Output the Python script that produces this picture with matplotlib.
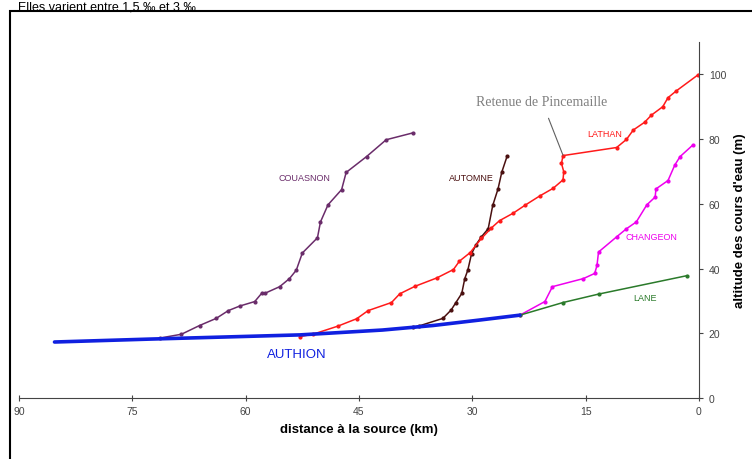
import matplotlib
matplotlib.use('Agg')
import matplotlib.pyplot as plt
from matplotlib.patches import Rectangle

plt.rcParams['font.family'] = ['Liberation Sans', 'DejaVu Sans']

# river profiles: distance to the source (km), altitude (m)
authion_km = [85.3, 72.7, 52.8, 41.9, 35.2, 29.0, 23.7]
authion_alt = [17.3, 18.2, 19.5, 21.0, 22.4, 24.1, 25.6]

couasnon_km = [71.4, 68.5, 66.1, 63.9, 62.3, 60.8, 58.8, 57.9, 57.5, 55.5, 54.2,
               53.3, 52.5, 50.5, 50.1, 49.1, 47.3, 46.7, 44.0, 41.4, 37.9]
couasnon_alt = [18.5, 19.7, 22.4, 24.6, 27.0, 28.4, 29.8, 32.3, 32.3, 34.4, 36.9,
                39.5, 44.8, 49.5, 54.4, 59.7, 64.4, 69.7, 74.6, 79.8, 81.9]

automne_km = [37.8, 37.0, 33.9, 32.8, 32.2, 31.4, 31.0, 30.6, 30.1, 29.5, 28.8,
              27.9, 27.3, 26.6, 26.1, 25.4]
automne_alt = [21.8, 22.3, 24.6, 27.2, 29.4, 32.3, 36.9, 39.5, 44.6, 47.4, 49.8,
               52.3, 59.5, 64.6, 69.8, 74.7]

lathan_km = [52.8, 51.1, 47.8, 45.3, 43.8, 40.7, 39.6, 37.6, 34.7, 32.5, 31.7,
             30.3, 28.8, 27.5, 26.4, 24.6, 23.0, 21.1, 19.3, 18.0, 17.9, 18.2,
             18.0, 10.9, 9.6, 8.7, 7.2, 6.3, 4.8, 4.1, 3.0, 0.1]
lathan_alt = [19.0, 19.7, 22.2, 24.5, 27.0, 29.5, 32.2, 34.5, 37.1, 39.7, 42.3,
              44.9, 49.3, 52.5, 54.8, 57.1, 59.6, 62.4, 64.8, 67.4, 69.9, 72.5,
              74.9, 77.4, 79.9, 82.8, 85.2, 87.4, 90.0, 92.8, 94.9, 99.9]

changeon_km = [23.7, 20.4, 19.4, 15.3, 13.8, 13.5, 13.3, 10.9, 9.6, 8.3, 6.9,
               5.8, 5.7, 4.1, 3.2, 2.5, 0.8]
changeon_alt = [25.6, 29.8, 34.4, 36.9, 38.5, 41.0, 45.1, 49.8, 52.3, 54.4, 59.7,
                62.1, 64.6, 67.2, 72.0, 74.6, 78.2]

lane_km = [23.7, 18.0, 13.3, 1.6]
lane_alt = [25.6, 29.5, 32.1, 37.8]

x_ticks = [90, 75, 60, 45, 30, 15, 0]
y_ticks = [0, 20, 40, 60, 80, 100]

fig = plt.figure(figsize=(7.52, 4.6), dpi=100)

# outer frame of the scanned figure
fig.patches.append(Rectangle((10 / 752, -0.1), 1.0, 1 - 12 / 460 + 0.1,
                             transform=fig.transFigure, fill=False,
                             edgecolor='black', linewidth=1.5))
fig.text(18 / 752, 1 - 10 / 460, "Elles varient entre 1,5 \u2030 et 3 \u2030.",
         fontsize=9, va='baseline', ha='left', color='black')

ax = fig.add_axes([19 / 752, 61 / 460, 680 / 752, 356 / 460])

ax.plot(couasnon_km, couasnon_alt, color='#6a2c6a', lw=1.1, marker='o', ms=2)
ax.plot(automne_km, automne_alt, color='#4a1010', lw=1.1, marker='o', ms=2)
ax.plot(lathan_km, lathan_alt, color='#ff1a1a', lw=1.1, marker='o', ms=2)
ax.plot(changeon_km, changeon_alt, color='#ee00ee', lw=1.1, marker='o', ms=2)
ax.plot(lane_km, lane_alt, color='#2a7a2a', lw=1.1, marker='o', ms=2)
ax.plot(authion_km, authion_alt, color='#1020e0', lw=2.6, solid_capstyle='round')

ax.set_xlim(90, 0)
ax.set_ylim(0, 110)
ax.set_xticks(x_ticks)
ax.set_yticks(y_ticks)

for s in ['top', 'left']:
    ax.spines[s].set_visible(False)
ax.spines['bottom'].set_color('#444444')
ax.spines['right'].set_color('#444444')
ax.yaxis.tick_right()
ax.yaxis.set_label_position('right')
ax.tick_params(axis='x', direction='inout', length=5, labelsize=7.5,
               colors='#444444', pad=3)
ax.tick_params(axis='y', direction='out', length=3, labelsize=7.5,
               colors='#444444', pad=4)

ax.set_xlabel("distance \u00e0 la source (km)", fontsize=9.5, fontweight='bold',
              labelpad=5)
ax.set_ylabel("altitude des cours d'eau (m)", fontsize=9.5, fontweight='bold',
              labelpad=6)

# river names
lbl = dict(fontsize=6.5, ha='center', va='center')
ax.text(52.2, 68.2, "COUASNON", color='#6a2c6a', **lbl)
ax.text(30.1, 68.2, "AUTOMNE", color='#4a1010', **lbl)
ax.text(12.5, 81.8, "LATHAN", color='#ff1a1a', **lbl)
ax.text(6.3, 50.0, "CHANGEON", color='#ee00ee', **lbl)
ax.text(7.2, 31.0, "LANE", color='#2a7a2a', **lbl)
ax.text(53.3, 13.5, "AUTHION", color='#1020e0', fontsize=9.5, ha='center',
        va='center')

ax.annotate("Retenue de Pincemaille", xy=(18.0, 75.0), xytext=(20.8, 91.7),
            fontsize=10, family='Liberation Serif', color='#808080',
            ha='center', va='center',
            arrowprops=dict(arrowstyle='-', color='#606060', lw=0.8,
                            shrinkA=6, shrinkB=0))

fig.savefig('out.png', dpi=100)
